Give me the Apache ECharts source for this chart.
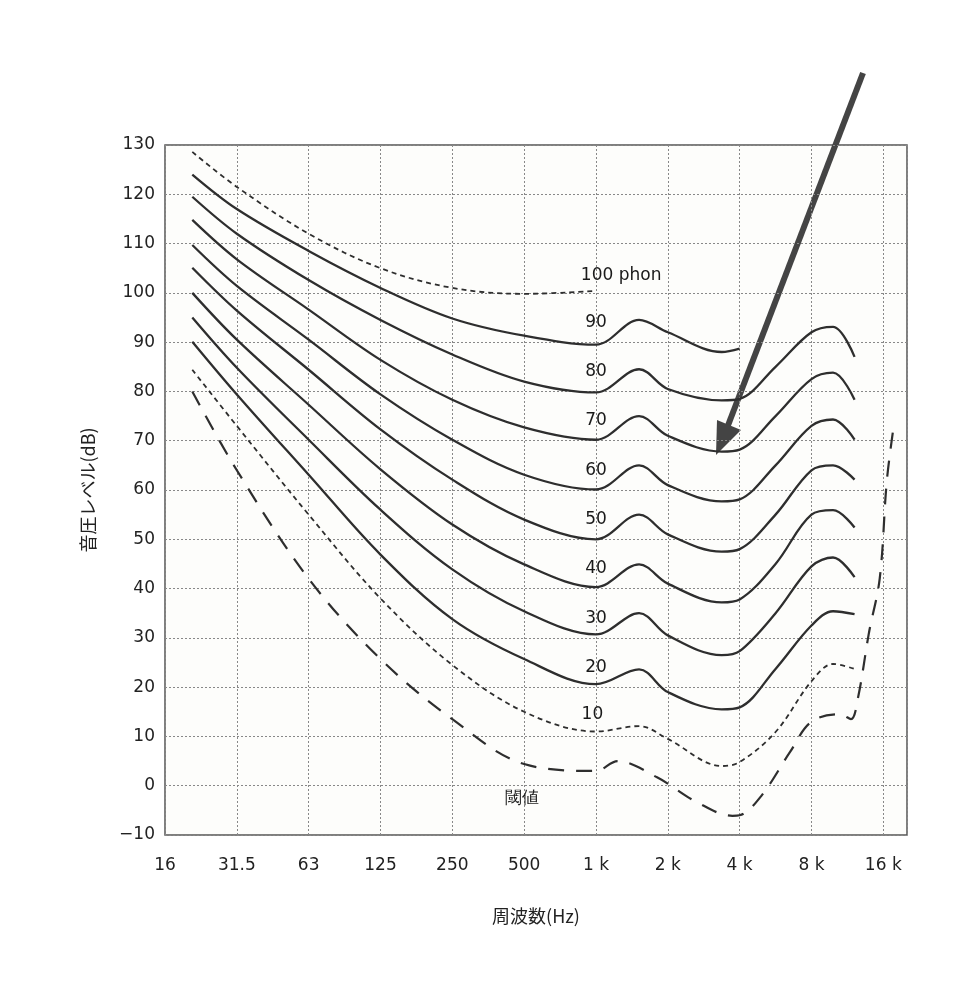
<!DOCTYPE html>
<html><head><meta charset="utf-8">
<script src="https://cdn.jsdelivr.net/npm/echarts@6/dist/echarts.min.js"></script>
<style>html,body{margin:0;padding:0;background:#fff}#c{width:978px;height:1000px}</style>
</head><body><div id="c"></div>
<script>
// x values are octaves above 16 Hz
const xTickLabels = ['16','31.5','63','125','250','500','1 k','2 k','4 k','8 k','16 k'];
const xStd = [0.38,1,2,3,4,5,6,6.6,7,7.75,8,8.5,9,9.3,9.6];
const c100 = [128.6,121.5,112,105,101,99.8,100.4];
const c90 = [124,117,108.5,101,94.8,91.3,89.5,94.5,92,88,88.7];
const c80 = [119.5,112,102.6,94.5,87.5,82,79.8,84.5,80.5,78.2,78.5,85,92,93.1,87];
const c70 = [114.8,106.8,96.6,86.4,78.3,72.7,70.2,75,71,67.8,68.2,75,82.5,83.8,78.3];
const c60 = [109.7,101.4,90.5,79.4,70.2,63.1,60.1,65,61,57.7,58.1,65,73,74.3,70.2];
const c50 = [105.1,96.4,84.4,72.3,62.1,54,50,55,51,47.5,48,55,64,65,62.1];
const c40 = [100,90.5,77.3,64.2,53,44.9,40.3,44.9,41,37.2,37.8,45,55,55.9,52.4];
const c30 = [95,84.8,70.2,56,43.9,35.4,30.7,35,30.5,26.5,27.3,35,44.5,46.3,42.3];
const c20 = [90.1,79.4,63.1,46.9,33.8,25.7,20.6,23.6,19,15.5,15.9,23.7,32.5,35.4,34.8];
const c10 = [84.4,73,55,38,24.5,15,11,12.1,9.5,4,4.8,10.9,21.2,24.7,23.7];
const xThr = [0.38,1,2,3,4,5,6,6.3,6.85,7.4,7.9,8,8.3,8.7,9,9.4,9.55,9.65,9.8,9.95,10.05,10.15];
const cThr = [80,64,42,25.7,13.5,4.4,3,5,1.7,-3.3,-6.1,-6,-2.1,6.8,13,14.5,13.5,18,31,42,62,73.5];
const phonLabels = [
  {t:'100 phon', x:6.35, y:103.5}, {t:'90', x:6, y:94}, {t:'80', x:6, y:84}, {t:'70', x:6, y:74},
  {t:'60', x:6, y:64}, {t:'50', x:6, y:54}, {t:'40', x:6, y:44}, {t:'30', x:6, y:34},
  {t:'20', x:6, y:24}, {t:'10', x:5.95, y:14.5}, {t:'閾値', x:4.97, y:-2.7}
];
const zip = (xs, ys) => ys.map((v,i)=>[xs[i],v]);
const font = '"DejaVu Sans", sans-serif';
const mk = (name, data, type, width) => ({
  name, type:'line', data, smooth:0.35, symbol:'none',
  lineStyle:{color:'#2e2e2e', width:width||2.3, type:type||'solid'}
});
const series = [
  mk('100', zip(xStd,c100), [5,4], 1.8),
  mk('90', zip(xStd,c90)), mk('80', zip(xStd,c80)), mk('70', zip(xStd,c70)),
  mk('60', zip(xStd,c60)), mk('50', zip(xStd,c50)), mk('40', zip(xStd,c40)),
  mk('30', zip(xStd,c30)), mk('20', zip(xStd,c20)),
  mk('10', zip(xStd,c10), [5,4], 1.8),
  mk('thr', zip(xThr,cThr), [16,12], 2.2),
  {type:'scatter', symbolSize:0, silent:true, itemStyle:{opacity:1},
   data: phonLabels.map(p=>({value:[p.x,p.y], label:{show:true, formatter:p.t}})),
   label:{position:'inside', color:'#1a1a1a', fontSize:17, fontFamily:font, opacity:1}}
];
const chart = echarts.init(document.getElementById('c'));
chart.setOption({
  backgroundColor:'#fff',
  animation:false,
  grid:{left:165, right:71, top:145, bottom:165, show:true, borderColor:'#555', borderWidth:1.5, backgroundColor:'#fdfdfb'},
  xAxis:{type:'value', min:0, max:10.33, interval:1,
    axisLine:{show:false}, axisTick:{show:false},
    splitLine:{lineStyle:{color:'#888', type:[2,2], width:1}},
    axisLabel:{margin:22, color:'#222', fontSize:17, fontFamily:font, formatter:v=>xTickLabels[Math.round(v)]||'', showMaxLabel:false},
    name:'周波数(Hz)', nameLocation:'middle', nameGap:72, nameTextStyle:{color:'#222', fontSize:18, fontFamily:'"Noto Sans CJK JP", sans-serif'}},
  yAxis:{type:'value', min:-10, max:130, interval:10,
    axisLine:{show:false}, axisTick:{show:false},
    splitLine:{lineStyle:{color:'#888', type:[2,2], width:1}},
    axisLabel:{margin:10, color:'#222', fontSize:17, fontFamily:font, formatter:v=>v<0?'−'+(-v):String(v)},
    name:'音圧レベル(dB)', nameLocation:'middle', nameGap:68, nameRotate:90, nameTextStyle:{color:'#222', fontSize:18, fontFamily:'"Noto Sans CJK JP", sans-serif'}},
  series,
  graphic:[
    {type:'line', shape:{x1:863, y1:73, x2:727, y2:428}, style:{stroke:'#444', lineWidth:6}},
    {type:'polygon', shape:{points:[[716,455],[717,420],[741,430]]}, style:{fill:'#444'}}
  ]
});
</script></body></html>
